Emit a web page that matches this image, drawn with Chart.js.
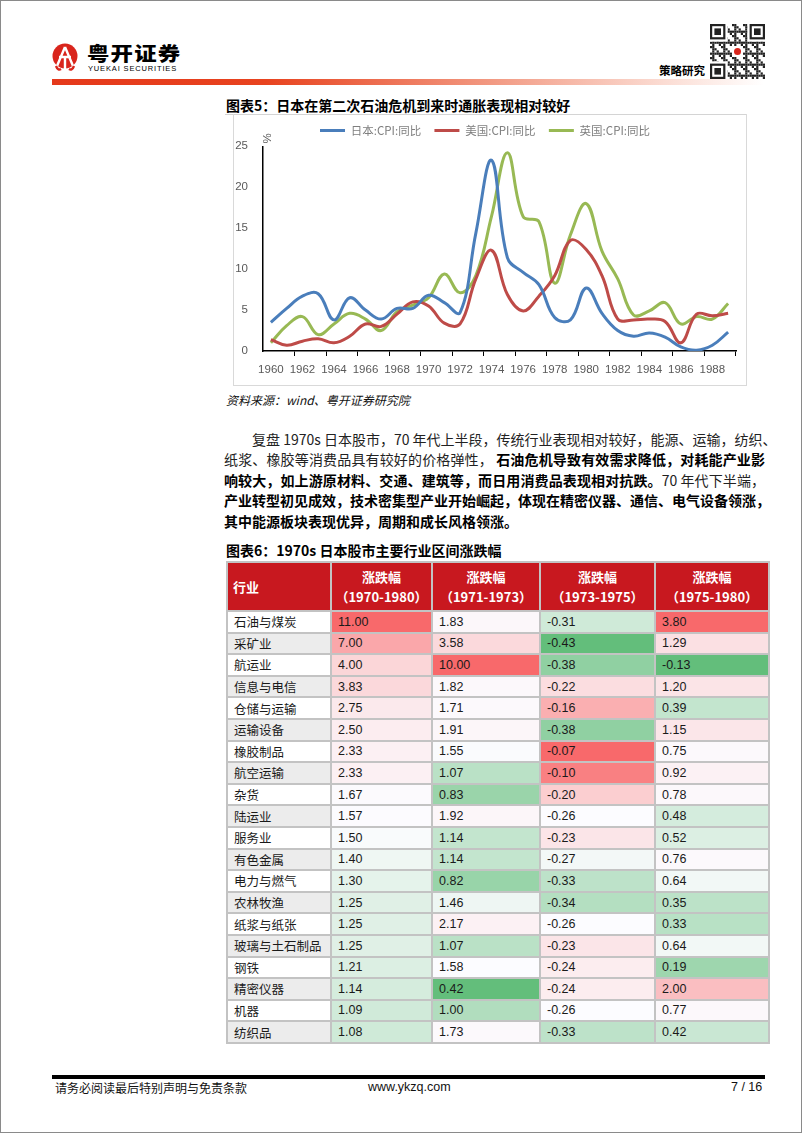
<!DOCTYPE html>
<html lang="zh-CN">
<head>
<meta charset="utf-8">
<title>日本在第二次石油危机到来时通胀表现相对较好</title>
<script src="https://cdn.jsdelivr.net/npm/chart.js@4.4.1/dist/chart.umd.min.js"></script>
<style>
  html, body { margin: 0; padding: 0; background: #fff; }
  body { width: 802px; height: 1133px; position: relative; overflow: hidden;
         font-family: "Noto Sans CJK SC", "Noto Sans", sans-serif; color: #000; }
  .page { position: absolute; left: 0; top: 0; width: 802px; height: 1133px;
          box-sizing: border-box; border: 1px solid #8a8a8a; }
  .abs { position: absolute; white-space: nowrap; }
  .brand { left: 87px; top: 42px; font-size: 19px; font-weight: 900; letter-spacing: 1px;
           transform: scaleX(1.18); transform-origin: left top; line-height: 22px; }
  .brand-en { left: 88px; top: 64px; font-size: 7.5px; letter-spacing: 0.85px;
              font-family: "Liberation Sans", Arial, sans-serif; line-height: 9px; }
  .dept { left: 659px; top: 62px; font-size: 11.5px; font-weight: 700; line-height: 16px; }
  .redbar { left: 52px; top: 79px; width: 712px; height: 6px;
            background: linear-gradient(to right, #e5391b 0%, #e8431f 30%, #f29a83 62%, #fbdcd3 86%, #ffffff 100%); }
  .title { font-size: 14px; font-weight: 700; line-height: 18px; }
  .frame-top { left: 225px; top: 114px; width: 521px; height: 1px; background: #d4d4d4; }
  .frame { left: 233px; top: 114px; width: 512px; height: 271px;
           border-left: 1px solid #d9d9d9; border-right: 1px solid #d9d9d9; border-bottom: 1px solid #d9d9d9; }
  #cpiChart { position: absolute; left: 234px; top: 123px; }
  .source { left: 226px; top: 392px; font-size: 12px; font-style: italic; line-height: 16px; color: #111; }
  .para { position: absolute; left: 224px; top: 428.75px; width: 541px; font-size: 14px; line-height: 20.5px; color: #222; }
  .para div { text-align: justify; text-align-last: justify; white-space: nowrap; }
  .para div.last { text-align-last: left; }
  .para b { color: #000; }
  .grid { position: absolute; left: 226px; top: 561px; width: 540px; padding: 2px; background: #c3c3c3;
          display: grid; grid-template-columns: 102px 99px 106px 113px 112px;
          grid-template-rows: 47px repeat(20, 19.6px); gap: 2px; }
  .hd { background: #c8181f; color: #fff; font-weight: 700; font-size: 13px; display: flex;
        flex-direction: column; justify-content: center; align-items: center; line-height: 20px; padding-top: 1px; }
  .hd.first { align-items: flex-start; padding-left: 5px; }
  .cell { display: flex; align-items: center; padding-left: 6px; font-size: 12.5px;
          font-family: "Liberation Sans", Arial, sans-serif; color: #1a1a1a; }
  .cell.name { font-family: "Noto Sans CJK SC", sans-serif; padding-left: 6px; }
  .footbar { left: 52px; top: 1075px; width: 713px; height: 4px; background: #000; }
  .foot { top: 1079px; font-size: 12px; line-height: 17px; color: #111; }
</style>
</head>
<body>
<div class="page"></div>

<!-- header -->
<svg class="abs" style="left:51px;top:42px" width="28" height="30" viewBox="0 0 28 30">
  <circle cx="14" cy="14" r="12.5" fill="#d9251c"/>
  <path d="M14 5 L6 24 M14 5 L22 24 M8 15 H20 M14 15 V27" stroke="#fff" stroke-width="2.4" fill="none"/>
  <path d="M5 24 Q7 29 10 27 M23 24 Q21 29 18 27" stroke="#d9251c" stroke-width="2.4" fill="none"/>
</svg>
<div class="abs brand">粤开证券</div>
<div class="abs brand-en">YUEKAI SECURITIES</div>
<div class="abs dept">策略研究</div>
<canvas id="qr" class="abs" style="left:710px;top:24px" width="55" height="55"></canvas>
<div class="abs redbar"></div>

<!-- chart 5 -->
<div class="abs title" style="left:226px;top:96px">图表5：日本在第二次石油危机到来时通胀表现相对较好</div>
<div class="abs frame-top"></div>
<div class="abs frame"></div>
<canvas id="cpiChart" width="511" height="262"></canvas>
<div class="abs source">资料来源：wind、粤开证券研究院</div>

<div class="para">
  <div style="text-indent:28px">复盘 1970s 日本股市，70 年代上半段，传统行业表现相对较好，能源、运输，纺织、</div>
  <div>纸浆、橡胶等消费品具有较好的价格弹性， <b>石油危机导致有效需求降低，对耗能产业影</b></div>
  <div><b>响较大，如上游原材料、交通、建筑等，而日用消费品表现相对抗跌。</b>70 年代下半端，</div>
  <div><b>产业转型初见成效，技术密集型产业开始崛起，体现在精密仪器、通信、电气设备领涨，</b></div>
  <div class="last"><b>其中能源板块表现优异，周期和成长风格领涨。</b></div>
</div>

<!-- table 6 -->
<div class="abs title" style="left:226px;top:541px">图表6：1970s 日本股市主要行业区间涨跌幅</div>
<div class="grid" id="sectorTable"></div>

<!-- footer -->
<div class="abs footbar"></div>
<div class="abs foot" style="left:55px">请务必阅读最后特别声明与免责条款</div>
<div class="abs foot" style="left:368px;font-family:'Liberation Sans',Arial,sans-serif;font-size:12.5px">www.ykzq.com</div>
<div class="abs foot" style="left:731px;font-family:'Liberation Sans',Arial,sans-serif;font-size:12.5px">7 / 16</div>

<script>
// chart data
var years = ['1960','1961','1962','1963','1964','1965','1966','1967','1968','1969',
             '1970','1971','1972','1973','1974','1975','1976','1977','1978','1979',
             '1980','1981','1982','1983','1984','1985','1986','1987','1988','1989'];
var cpiJapan = [3.5, 5.2, 6.7, 7.0, 3.8, 6.5, 5.0, 3.9, 5.2, 5.2,
                6.8, 5.9, 4.7, 14.4, 23.3, 11.4, 9.6, 8.1, 4.1, 3.8,
                7.7, 4.6, 2.5, 1.8, 2.2, 1.7, 0.5, 0.1, 0.7, 2.3];
var cpiUS    = [1.4, 0.7, 1.2, 1.5, 1.0, 1.8, 3.3, 3.0, 4.5, 6.0,
                5.5, 3.4, 3.3, 8.8, 12.3, 6.9, 4.9, 6.7, 9.2, 13.5,
                12.4, 9.2, 3.9, 3.8, 3.9, 3.6, 1.0, 4.5, 4.3, 4.6];
var cpiUK    = [1.0, 3.1, 4.2, 2.0, 3.3, 4.6, 3.9, 2.5, 4.8, 5.6,
                6.5, 9.4, 7.1, 9.2, 16.5, 24.2, 16.4, 15.8, 8.3, 14.2,
                18.0, 12.2, 8.8, 4.4, 4.9, 5.9, 3.3, 4.2, 3.9, 5.8];
var yTicks = {min: 0, max: 25, step: 5};

// table data
var sectors = ['石油与煤炭','采矿业','航运业','信息与电信','仓储与运输','运输设备','橡胶制品','航空运输','杂货','陆运业',
               '服务业','有色金属','电力与燃气','农林牧渔','纸浆与纸张','玻璃与土石制品','钢铁','精密仪器','机器','纺织品'];
var periods = ['1970-1980','1971-1973','1973-1975','1975-1980'];
var chg7080 = [11.00, 7.00, 4.00, 3.83, 2.75, 2.50, 2.33, 2.33, 1.67, 1.57,
               1.50, 1.40, 1.30, 1.25, 1.25, 1.25, 1.21, 1.14, 1.09, 1.08];
var chg7173 = [1.83, 3.58, 10.00, 1.82, 1.71, 1.91, 1.55, 1.07, 0.83, 1.92,
               1.14, 1.14, 0.82, 1.46, 2.17, 1.07, 1.58, 0.42, 1.00, 1.73];
var chg7375 = [-0.31, -0.43, -0.38, -0.22, -0.16, -0.38, -0.07, -0.10, -0.20, -0.26,
               -0.23, -0.27, -0.33, -0.34, -0.26, -0.23, -0.24, -0.24, -0.26, -0.33];
var chg7580 = [3.80, 1.29, -0.13, 1.20, 0.39, 1.15, 0.75, 0.92, 0.78, 0.48,
               0.52, 0.76, 0.64, 0.35, 0.33, 0.64, 0.19, 2.00, 0.77, 0.42];

///////////////////////////////////////////////////////////////////////////
// LINE CHART
///////////////////////////////////////////////////////////////////////////
var tickFont = {family: '"Liberation Sans", Arial, sans-serif', size: 11.5};

// rotated "%" unit at the top of the value axis
var percentUnit = {
    id: 'percentUnit',
    afterDraw: function(chart) {
        var ctx = chart.ctx, area = chart.chartArea;
        ctx.save();
        ctx.translate(area.left + 5, area.top - 8);
        ctx.rotate(-Math.PI / 2);
        ctx.fillStyle = '#595959';
        ctx.font = '11.5px "Liberation Sans", Arial, sans-serif';
        ctx.textAlign = 'center';
        ctx.textBaseline = 'middle';
        ctx.fillText('%', 0, 0);
        ctx.restore();
    }
};

function plotCpiChart(canvasID) {
    var ctx = document.getElementById(canvasID).getContext('2d');
    var gap = '\u3000';
    var chart = new Chart(ctx, {
        type: 'line',
        data: {
            labels: years,
            datasets: [
                {label: '日本:CPI:同比' + gap, data: cpiJapan, borderColor: '#4a7ebb', backgroundColor: '#4a7ebb'},
                {label: '美国:CPI:同比' + gap, data: cpiUS, borderColor: '#be4b48', backgroundColor: '#be4b48'},
                {label: '英国:CPI:同比', data: cpiUK, borderColor: '#98b954', backgroundColor: '#98b954'}
            ]
        },
        options: {
            responsive: false,
            animation: false,
            layout: {padding: {right: 9}},
            elements: {
                line: {borderWidth: 3, tension: 0.4, fill: false},
                point: {radius: 0, hoverRadius: 0}
            },
            plugins: {
                tooltip: {enabled: false},
                legend: {
                    labels: {
                        boxWidth: 25, boxHeight: 3, padding: 1.8,
                        color: '#7f7f7f',
                        font: {family: '"Noto Sans CJK SC", sans-serif', size: 11.5},
                        generateLabels: function(chart) {
                            var items = Chart.defaults.plugins.legend.labels.generateLabels(chart);
                            items.forEach(function(it) { it.lineWidth = 0; it.fillStyle = it.strokeStyle; });
                            return items;
                        }
                    }
                }
            },
            scales: {
                x: {
                    offset: true,
                    grid: {
                        offset: true, drawOnChartArea: false, drawTicks: true, tickLength: 5, lineWidth: 1,
                        tickColor: function(c) {
                            return (c.type === 'scale' || (c.index > 0 && c.index % 2 === 0)) ? '#000' : 'rgba(0,0,0,0)';
                        }
                    },
                    border: {color: '#000', width: 1.5},
                    ticks: {
                        autoSkip: false, maxRotation: 0, padding: 7, color: '#595959', font: tickFont,
                        callback: function(v, i) { return i % 2 === 0 ? this.getLabelForValue(v) : ''; }
                    },
                    afterFit: function(s) { s.height = 34; }
                },
                y: {
                    min: yTicks.min, max: yTicks.max,
                    grid: {drawOnChartArea: false, drawTicks: false},
                    border: {color: '#000', width: 1.5},
                    ticks: {stepSize: yTicks.step, padding: 15, color: '#595959', font: tickFont},
                    afterFit: function(s) { s.width = 29; }
                }
            }
        },
        plugins: [percentUnit]
    });
    return chart;
}

///////////////////////////////////////////////////////////////////////////
// TABLE WITH 3-COLOUR SCALE (green - white - red, per column)
///////////////////////////////////////////////////////////////////////////
function median(arr) {
    var s = arr.slice().sort(function(a, b) { return a - b; });
    var m = Math.floor(s.length / 2);
    return s.length % 2 ? s[m] : (s[m - 1] + s[m]) / 2;
}

function scaleColor(v, lo, mid, hi) {
    var white = [252, 252, 255], red = [248, 105, 107], green = [99, 190, 123];
    var t, c;
    if (v >= mid) { t = (v - mid) / (hi - mid); c = red; }
    else { t = (mid - v) / (mid - lo); c = green; }
    t = Math.max(0, Math.min(1, t));
    return 'rgb(' + white.map(function(w, i) { return Math.round(w + (c[i] - w) * t); }).join(',') + ')';
}

function buildTable(divID) {
    var el = document.getElementById(divID);
    var cols = [chg7080, chg7173, chg7375, chg7580];
    // first column's scale starts from zero in the source sheet
    var lowFloor = [0, null, null, null];
    var html = '<div class="hd first">行业</div>';
    periods.forEach(function(p) {
        html += '<div class="hd"><div>涨跌幅</div><div>（' + p + '）</div></div>';
    });
    var scales = cols.map(function(col, k) {
        var lo = lowFloor[k] !== null ? lowFloor[k] : Math.min.apply(null, col);
        return {lo: lo, mid: median(col), hi: Math.max.apply(null, col)};
    });
    sectors.forEach(function(name, r) {
        html += '<div class="cell name" style="background:' + (r % 2 ? '#ececec' : '#ffffff') + '">' + name + '</div>';
        cols.forEach(function(col, k) {
            var sc = scales[k];
            html += '<div class="cell" style="background:' + scaleColor(col[r], sc.lo, sc.mid, sc.hi) + '">' +
                    col[r].toFixed(2) + '</div>';
        });
    });
    el.innerHTML = html;
}

///////////////////////////////////////////////////////////////////////////
// QR-LIKE BADGE (decorative)
///////////////////////////////////////////////////////////////////////////
function drawBadge(canvasID) {
    var c = document.getElementById(canvasID).getContext('2d');
    var n = 25, m = 55 / n;
    c.fillStyle = '#fff'; c.fillRect(0, 0, 55, 55);
    c.fillStyle = '#222';
    for (var i = 0; i < n; i++) {
        for (var j = 0; j < n; j++) {
            if (((i * 7 + j * 11 + i * j * 3) % 5) < 2) c.fillRect(j * m, i * m, m, m);
        }
    }
    [[0, 0], [0, n - 7], [n - 7, 0]].forEach(function(p) {
        c.fillStyle = '#fff'; c.fillRect(p[1] * m - m, p[0] * m - m, 9 * m, 9 * m);
        c.fillStyle = '#222'; c.fillRect(p[1] * m, p[0] * m, 7 * m, 7 * m);
        c.fillStyle = '#fff'; c.fillRect((p[1] + 1) * m, (p[0] + 1) * m, 5 * m, 5 * m);
        c.fillStyle = '#222'; c.fillRect((p[1] + 2) * m, (p[0] + 2) * m, 3 * m, 3 * m);
    });
    c.fillStyle = '#fff'; c.fillRect(22, 22, 11, 11);
    c.fillStyle = '#d9251c'; c.beginPath(); c.arc(27.5, 27.5, 3.5, 0, Math.PI * 2); c.fill();
}

plotCpiChart('cpiChart');
buildTable('sectorTable');
drawBadge('qr');
</script>
</body>
</html>
